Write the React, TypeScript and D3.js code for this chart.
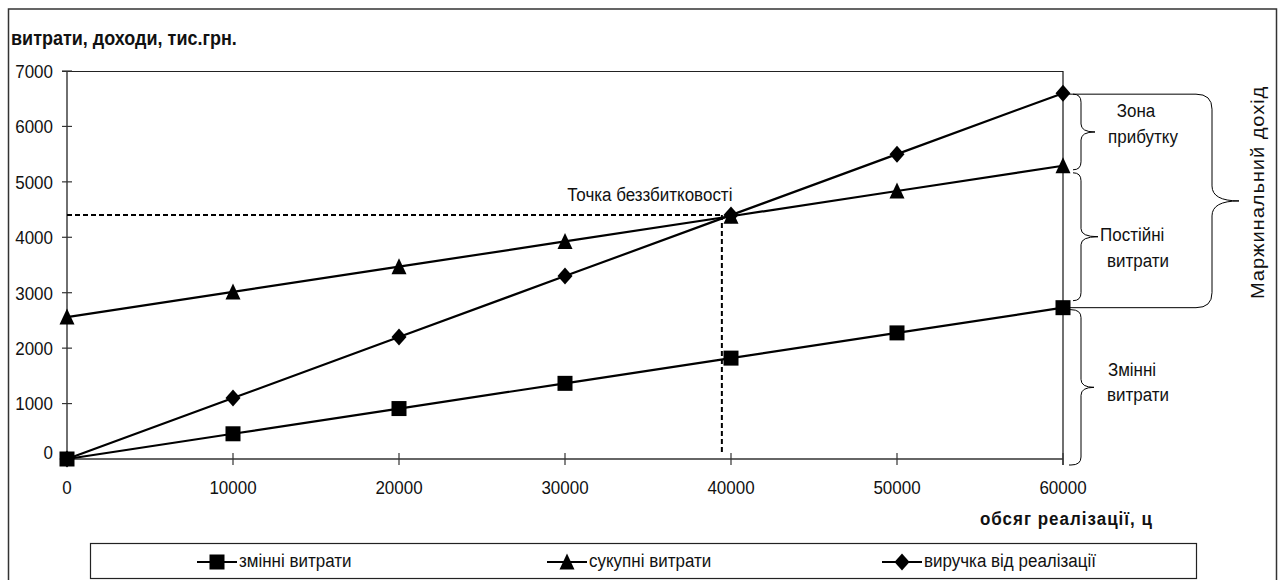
import React from 'react';
import * as d3 from 'd3';

// ---- data ----
const volumes = [0, 10000, 20000, 30000, 40000, 50000, 60000];
const variableCosts = [0, 455, 910, 1365, 1820, 2275, 2730];
const totalCosts = [2560, 3015, 3470, 3925, 4380, 4835, 5290];
const revenue = [0, 1100, 2200, 3300, 4400, 5500, 6600];
const yTicks = [0, 1000, 2000, 3000, 4000, 5000, 6000, 7000];
const xTicks = [0, 10000, 20000, 30000, 40000, 50000, 60000];
const seriesNames = ['змінні витрати', 'сукупні витрати', 'виручка від реалізації'];
const breakEvenPoint = [39450, 4400];
const yTitle = 'витрати, доходи, тис.грн.';
const xTitle = 'обсяг реалізації, ц';
const breakEvenLabel = 'Точка беззбитковості';

const FONT = "'Liberation Sans', Arial, sans-serif";
const SY = 1.12;

function Txt(props: any) {
  const { x, y, anchor = 'start', size = 17, weight = 'normal', rotate, ls, children } = props;
  return (
    <text
      transform={`translate(${x},${y}) scale(1,${SY})${rotate ? ` rotate(${rotate})` : ''}`}
      textAnchor={anchor}
      fontFamily={FONT}
      fontSize={size}
      fontWeight={weight}
      letterSpacing={ls}
      fill="#111"
    >
      {children}
    </text>
  );
}

function brace(x0: number, x1: number, xt: number, y1: number, y2: number, rx: number, ry: number) {
  const ym = (y1 + y2) / 2;
  return `M${x0},${y1} L${x1 - rx},${y1} Q${x1},${y1} ${x1},${y1 + ry} L${x1},${ym - ry} Q${x1},${ym} ${xt},${ym} Q${x1},${ym} ${x1},${ym + ry} L${x1},${y2 - ry} Q${x1},${y2} ${x1 - rx},${y2} L${x0},${y2}`;
}

function Marker({ kind, cx, cy }: { kind: string; cx: number; cy: number }) {
  if (kind === 'square') return <rect x={cx - 7.5} y={cy - 7.5} width={15} height={15} fill="#000" />;
  if (kind === 'triangle')
    return <path d={`M${cx},${cy - 8.5} L${cx + 7.5},${cy + 7.5} L${cx - 7.5},${cy + 7.5} Z`} fill="#000" />;
  return <path d={`M${cx},${cy - 8.5} L${cx + 7.5},${cy} L${cx},${cy + 8.5} L${cx - 7.5},${cy} Z`} fill="#000" />;
}

export default function App() {
  const x = d3.scaleLinear().domain([0, 60000]).range([67, 1063]);
  const y = d3.scaleLinear().domain([0, 7000]).range([459, 71]);
  const line = d3
    .line<number>()
    .x((_, i) => x(volumes[i]))
    .y((d) => y(d));

  const series = [
    { name: seriesNames[0], values: variableCosts, kind: 'square' },
    { name: seriesNames[1], values: totalCosts, kind: 'triangle' },
    { name: seriesNames[2], values: revenue, kind: 'diamond' },
  ];

  const last = volumes.length - 1;
  const yRev = y(revenue[last]);
  const yTot = y(totalCosts[last]);
  const yVar = y(variableCosts[last]);
  const y0 = y(0);
  const xEnd = x(60000);

  const bx = x(breakEvenPoint[0]);
  const by = y(breakEvenPoint[1]);

  const legendCenters = [217, 567, 902];

  return (
    <svg
      width={1282}
      height={580}
      style={{ position: 'absolute', left: 0, top: 0, background: '#fff' }}
    >
      <rect x={0} y={0} width={1282} height={580} fill="#fff" />
      {/* outer border */}
      <rect x={8.5} y={9} width={1268} height={620} fill="none" stroke="#333" strokeWidth={1.5} />

      {/* plot frame top & right */}
      <line x1={62} x2={xEnd} y1={71.5} y2={71.5} stroke="#222" strokeWidth={1.2} />
      <line x1={xEnd} x2={xEnd} y1={71} y2={y0 + 6} stroke="#111" strokeWidth={1.2} />

      {/* axes */}
      <line x1={67} x2={67} y1={71} y2={y0} stroke="#333" strokeWidth={1.4} />
      <line x1={67} x2={xEnd} y1={y0} y2={y0} stroke="#333" strokeWidth={1.4} />
      {yTicks.map((t) => (
        <g key={'yt' + t}>
          <line x1={62} x2={72} y1={y(t)} y2={y(t)} stroke="#333" strokeWidth={1.2} />
          <Txt x={53} y={(t === 0 ? y(t) - 7 : y(t)) + 6.8} anchor="end">
            {t}
          </Txt>
        </g>
      ))}
      {xTicks.map((t) => (
        <g key={'xt' + t}>
          <line x1={x(t)} x2={x(t)} y1={y0 - 6} y2={y0 + 6} stroke="#333" strokeWidth={1.2} />
          <Txt x={x(t)} y={494} anchor="middle">
            {t}
          </Txt>
        </g>
      ))}

      {/* break-even dashed lines */}
      <line x1={67} x2={bx} y1={by} y2={by} stroke="#000" strokeWidth={2} strokeDasharray="5,3" />
      <line x1={bx} x2={bx} y1={by} y2={y0 - 6} stroke="#000" strokeWidth={2} strokeDasharray="5,3" />

      {/* series lines */}
      {series.map((s) => (
        <path key={s.name} d={line(s.values) || ''} fill="none" stroke="#000" strokeWidth={2.2} />
      ))}
      {series.map((s) =>
        s.values.map((v, i) => <Marker key={s.name + i} kind={s.kind} cx={x(volumes[i])} cy={y(v)} />)
      )}

      {/* break-even label */}
      <Txt x={bx - 72} y={by - 14} anchor="middle">
        {breakEvenLabel}
      </Txt>

      {/* titles */}
      <Txt x={11} y={45} size={18} weight="bold">
        {yTitle}
      </Txt>
      <Txt x={1153} y={525} size={17} weight="bold" anchor="end" ls={1}>
        {xTitle}
      </Txt>

      {/* braces */}
      <g fill="none" stroke="#000" strokeWidth={1}>
        <path d={brace(1073, 1081, 1095, yRev + 1, yTot + 4, 8, 8)} />
        <path d={brace(1073, 1081, 1098, yTot + 7, yVar - 7, 8, 8)} />
        <path d={brace(1069, 1081, 1094, yVar + 2, y0 + 6, 10, 8)} />
        <path d={brace(xEnd, 1212, 1239, yRev + 1, yVar, 16, 15)} />
      </g>
      <Txt x={1136} y={117} anchor="middle">Зона</Txt>
      <Txt x={1143} y={143} anchor="middle">прибутку</Txt>
      <Txt x={1100} y={241} anchor="start">Постійні</Txt>
      <Txt x={1138} y={267} anchor="middle">витрати</Txt>
      <Txt x={1132} y={376} anchor="middle">Змінні</Txt>
      <Txt x={1138} y={401} anchor="middle">витрати</Txt>
      <Txt x={1264} y={(yRev + yVar) / 2 - 8} anchor="middle" rotate={-90} size={18} ls={0.8}>
        Маржинальний дохід
      </Txt>

      {/* legend */}
      <rect x={90.5} y={543.5} width={1106} height={35} fill="#fff" stroke="#222" strokeWidth={1.2} />
      {series.map((s, i) => {
        const c = legendCenters[i];
        return (
          <g key={'lg' + s.name}>
            <line x1={c - 20} x2={c + 20} y1={562} y2={562} stroke="#000" strokeWidth={2.2} />
            <Marker kind={s.kind} cx={c} cy={562} />
            <Txt x={c + 22} y={567} anchor="start">
              {s.name}
            </Txt>
          </g>
        );
      })}
    </svg>
  );
}
